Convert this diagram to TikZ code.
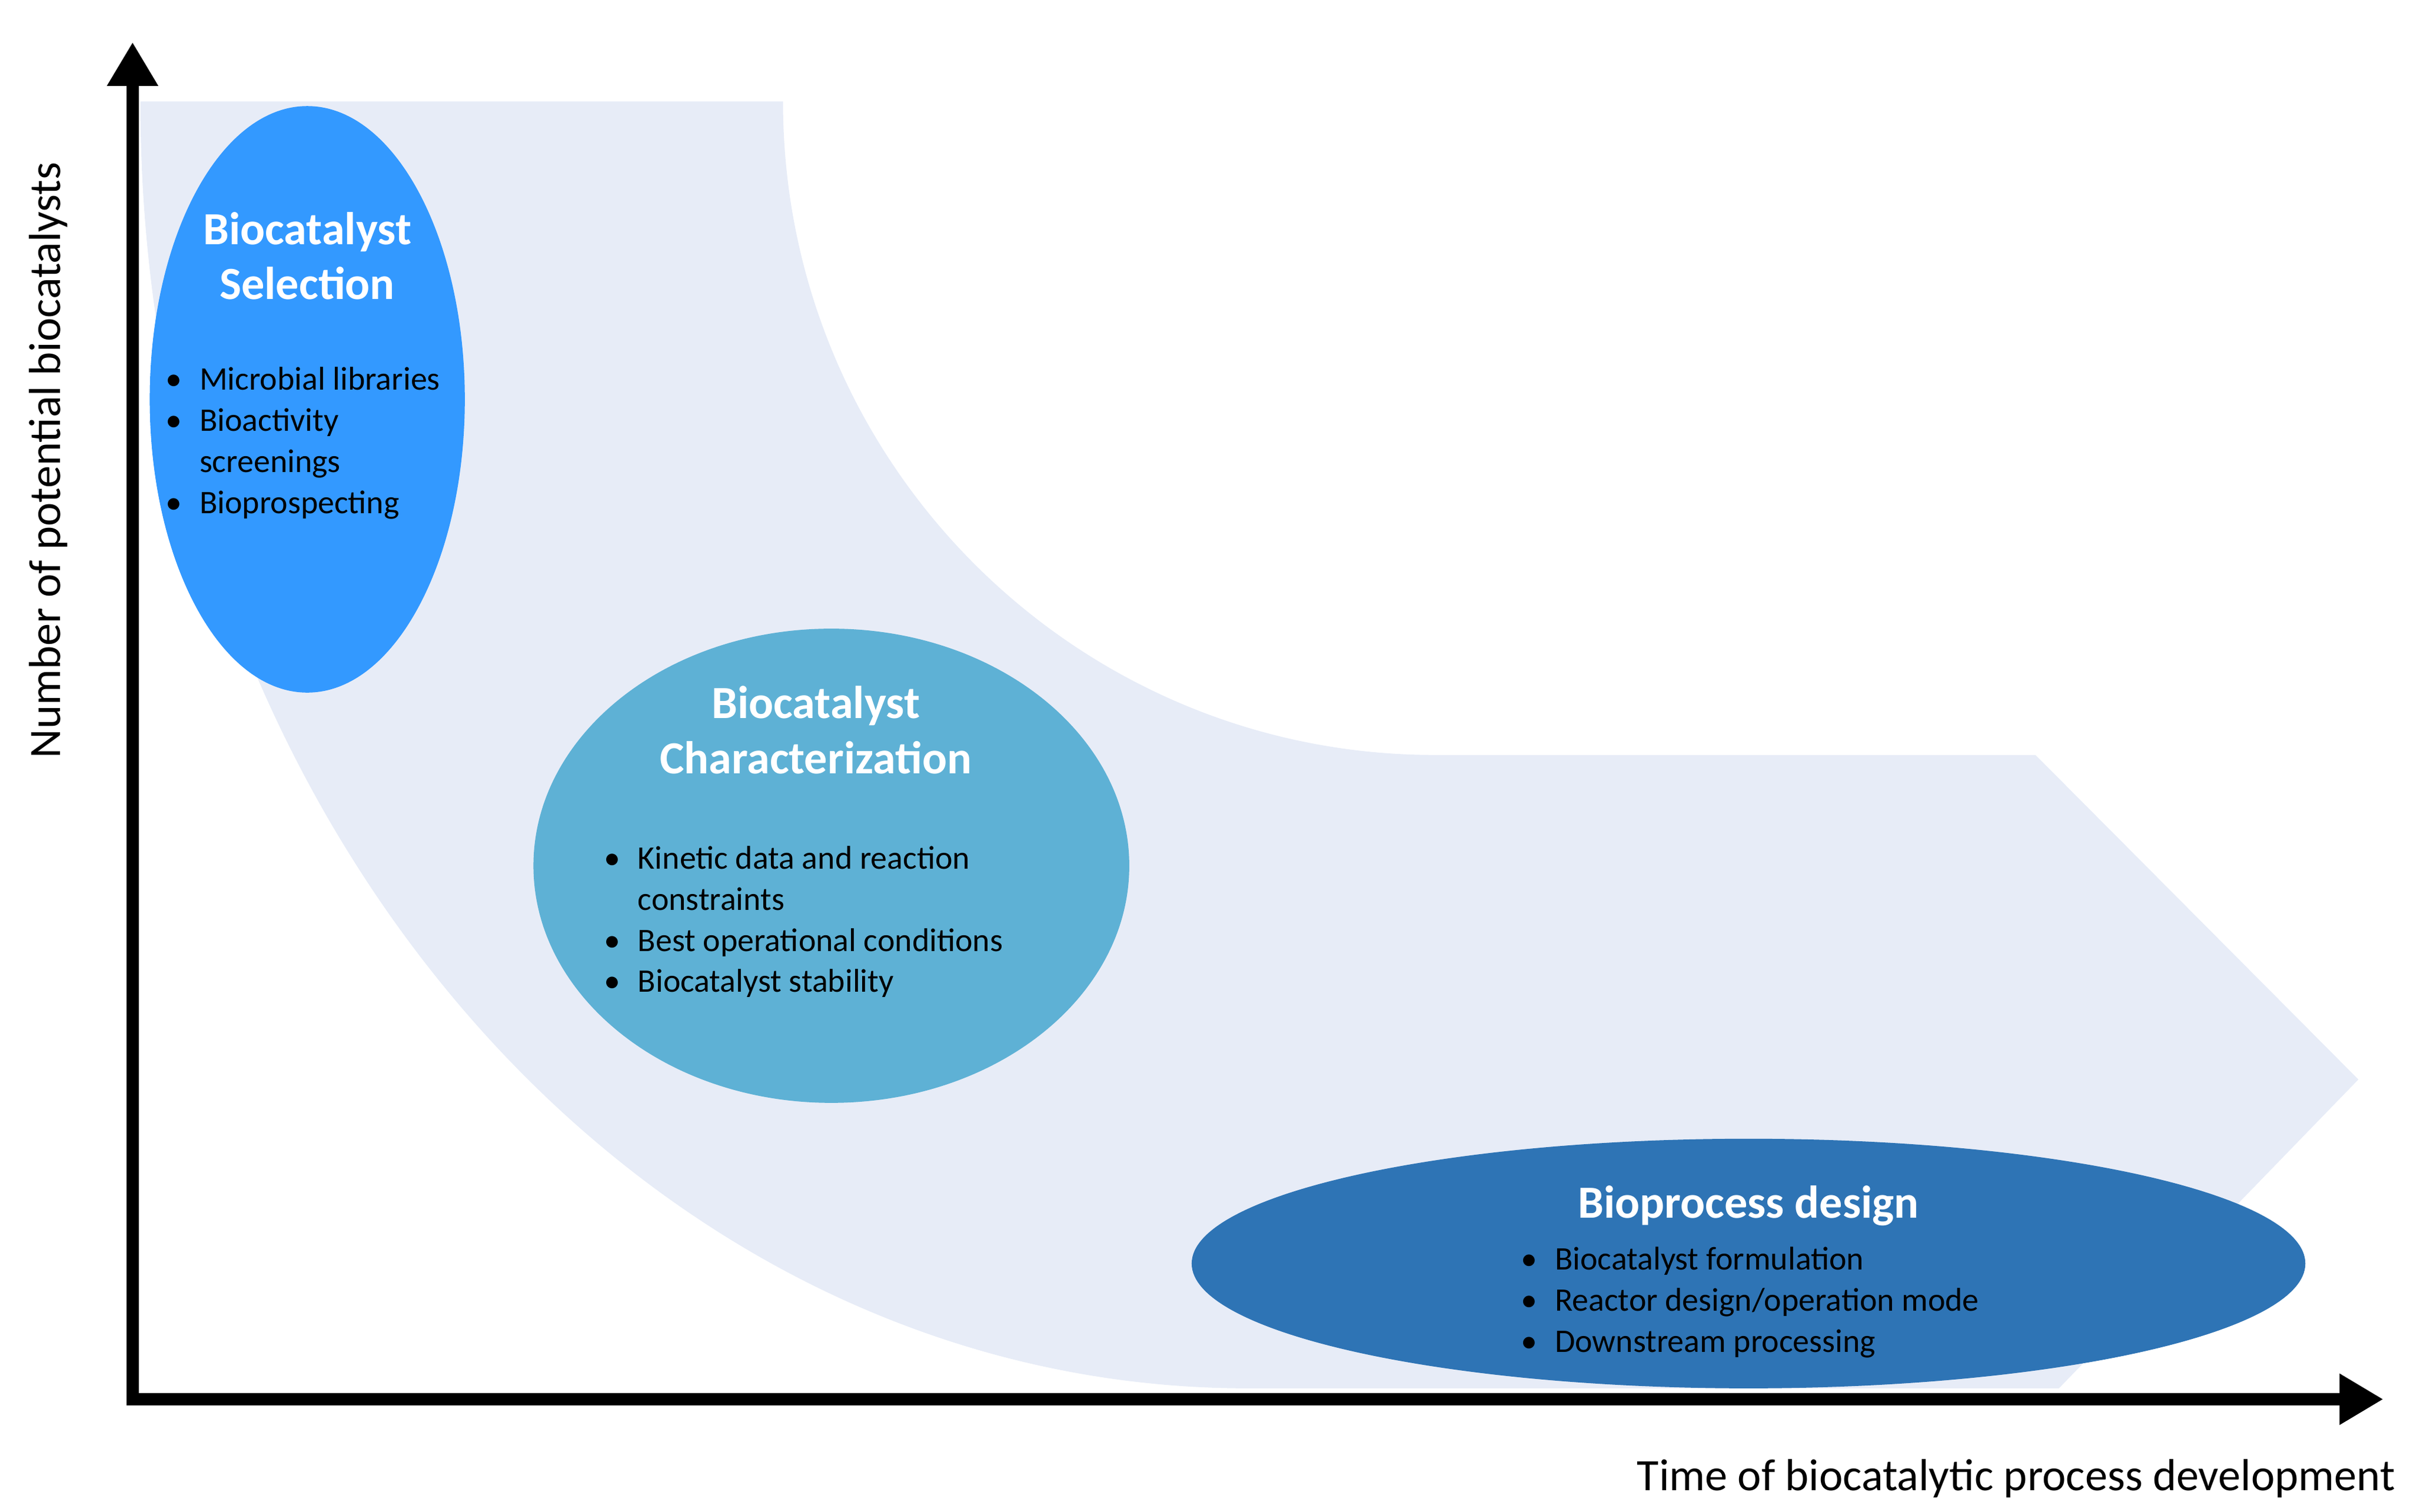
\documentclass[tikz,border=0pt]{standalone}
\usepackage{fontspec}
\setmainfont{Carlito}
\usetikzlibrary{arrows.meta}
\definecolor{band}{HTML}{E7ECF7}
\definecolor{selc}{HTML}{3399FF}
\definecolor{charc}{HTML}{5EB1D5}
\definecolor{desc}{HTML}{2E74B5}
\newcommand{\itm}[1]{\makebox[31pt][l]{\textbullet}&#1}
\begin{document}
\begin{tikzpicture}[x=0.05cm,y=-0.05cm,
  ttl/.style={font=\fontsize{42}{50}\selectfont\bfseries,text=white,align=center},
  lst/.style={font=\fontsize{30}{37.5}\selectfont,anchor=base west,inner sep=0pt},
  ax/.style={line width=11pt,-{Triangle[length=40pt,width=44pt]}},
  axl/.style={font=\fontsize{41}{45}\selectfont}]
\useasboundingbox (0,0) rectangle (1556,969);
% band
\fill[band] (90,65) -- (502,65) arc[start angle=180,end angle=90,x radius=418,y radius=419]
  -- (1305,484) -- (1512,692) -- (1320,890) -- (800,890)
  arc[start angle=90,end angle=180,x radius=710,y radius=825] -- cycle;
% axes
\coordinate (o) at (85,897);
\coordinate (yt) at (85,27);
\coordinate (xt) at (1528,897);
\draw[ax] (o) -- (yt);
\draw[ax] ([xshift=-5.5pt]o) -- (xt);
\node[axl,rotate=90] (yl) at (31,295) {Number of potential biocatalysts};
\node[axl,anchor=east] (xl) at (1538,948) {Time of biocatalytic process development};
% ellipses
\fill[selc] (197,256) ellipse[x radius=101,y radius=188];
\fill[charc] (533,555) ellipse[x radius=191,y radius=152];
\fill[desc] (1121,810) ellipse[x radius=357,y radius=80];
\node[ttl] (t1) at (197,164) {Biocatalyst\\Selection};
\node[lst] (l1) at (106,250) {\begin{tabular}[t]{@{}l@{}l@{}}\itm{Microbial libraries}\\\itm{Bioactivity}\\&screenings\\\itm{Bioprospecting}\end{tabular}};
\node[ttl] (t2) at (523,468) {Biocatalyst\\Characterization};
\node[lst] (l2) at (387,557) {\begin{tabular}[t]{@{}l@{}l@{}}\itm{Kinetic data and reaction}\\&constraints\\\itm{Best operational conditions}\\\itm{Biocatalyst stability}\end{tabular}};
\node[ttl] (t3) at (1121,773) {Bioprocess design};
\node[lst] (l3) at (975,814) {\begin{tabular}[t]{@{}l@{}l@{}}\itm{Biocatalyst formulation}\\\itm{Reactor design/operation mode}\\\itm{Downstream processing}\end{tabular}};
\end{tikzpicture}
\end{document}
